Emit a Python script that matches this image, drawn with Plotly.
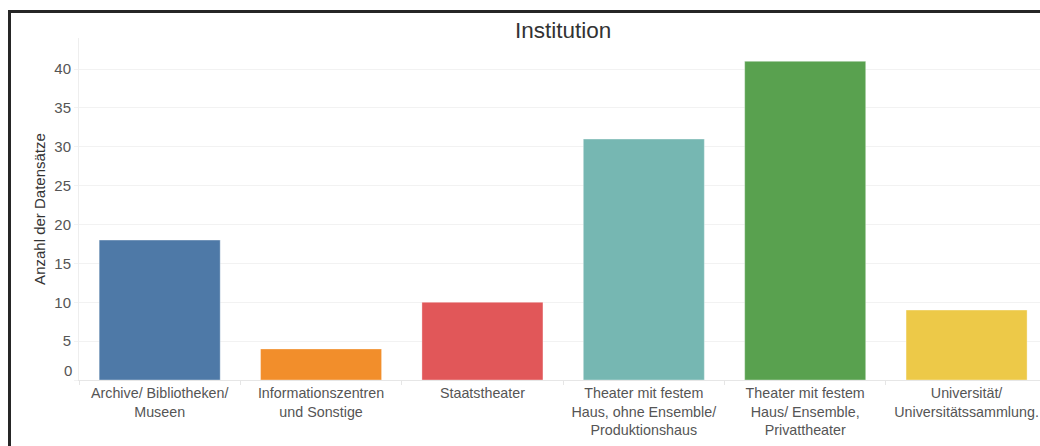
import plotly.graph_objects as go

# Data: number of records per institution type
categories = [
    "Archive/ Bibliotheken/<br>Museen",
    "Informationszentren<br>und Sonstige",
    "Staatstheater",
    "Theater mit festem<br>Haus, ohne Ensemble/<br>Produktionshaus",
    "Theater mit festem<br>Haus/ Ensemble,<br>Privattheater",
    "Universität/<br>Universitätssammlung.",
]
counts = [18, 4, 10, 31, 41, 9]
colors = ["#4e79a7", "#f28e2b", "#e15759", "#76b7b2", "#59a14f", "#edc948"]
y_ticks = [0, 5, 10, 15, 20, 25, 30, 35, 40]

W, H = 1040, 446
ML, MR, MT, MB = 79, 0, 38, 66
plot_w = W - ML - MR
plot_h = H - MT - MB

font_family = "Liberation Sans, Arial, sans-serif"
label_color = "#555555"

fig = go.Figure(
    go.Bar(
        x=categories,
        y=counts,
        marker=dict(color=colors, line=dict(color="rgba(255,255,255,0.35)", width=1)),
        width=0.75,
        hoverinfo="x+y",
    )
)

# x range chosen so the last category slot runs slightly past the right edge
x_left, x_right = -0.5, 5.455

fig.update_layout(
    width=W,
    height=H,
    margin=dict(l=ML, r=MR, t=MT, b=MB, autoexpand=False),
    paper_bgcolor="white",
    plot_bgcolor="white",
    showlegend=False,
    font=dict(family=font_family, color=label_color, size=15),
    title=dict(
        text="Institution",
        x=(ML + (ML + plot_w * 6 / (x_right - x_left))) / 2 / W,
        xanchor="center",
        y=1 - 30 / H,
        yanchor="middle",
        font=dict(size=22.5, color="#333333", family=font_family),
    ),
    xaxis=dict(
        type="category",
        range=[x_left, x_right],
        automargin=False,
        tickangle=0,
        showgrid=False,
        showline=True,
        linecolor="#e6e6e6",
        linewidth=1,
        ticks="outside",
        tickson="boundaries",
        ticklen=4,
        tickcolor="#e6e6e6",
        tickfont=dict(size=14.3, color=label_color),
        zeroline=False,
    ),
    yaxis=dict(
        range=[0, 44],
        automargin=False,
        tickvals=y_ticks,
        ticktext=["" if v == 0 else str(v) for v in y_ticks],
        showgrid=True,
        gridcolor="#f2f2f2",
        gridwidth=1,
        zeroline=False,
        showline=True,
        linecolor="#eeeeee",
        ticks="outside",
        ticklen=4,
        tickcolor="#f2f2f2",
        tickfont=dict(size=15, color=label_color),
        title=dict(
            text="Anzahl der Datensätze",
            font=dict(size=15, color="#333333"),
            standoff=5,
        ),
    ),
)

# The zero label sits a little above the baseline
fig.add_annotation(
    x=0, xref="paper", xanchor="right", xshift=-5,
    y=1.2, yref="y", yanchor="middle",
    text="0", showarrow=False,
    font=dict(size=15, color=label_color),
)

# Dark frame along the left and top edges
def px_to_paper_x(px):
    return (px - ML) / plot_w

def px_to_paper_y(py):
    return 1 - (py - MT) / plot_h

frame = dict(color="#262626", width=3)
fig.add_shape(
    type="line", xref="paper", yref="paper",
    x0=px_to_paper_x(9.5), x1=px_to_paper_x(9.5),
    y0=px_to_paper_y(10), y1=px_to_paper_y(H + 5),
    line=frame, layer="above",
)
fig.add_shape(
    type="line", xref="paper", yref="paper",
    x0=px_to_paper_x(8), x1=px_to_paper_x(W + 5),
    y0=px_to_paper_y(11.5), y1=px_to_paper_y(11.5),
    line=frame, layer="above",
)

fig.write_html("out.html")
